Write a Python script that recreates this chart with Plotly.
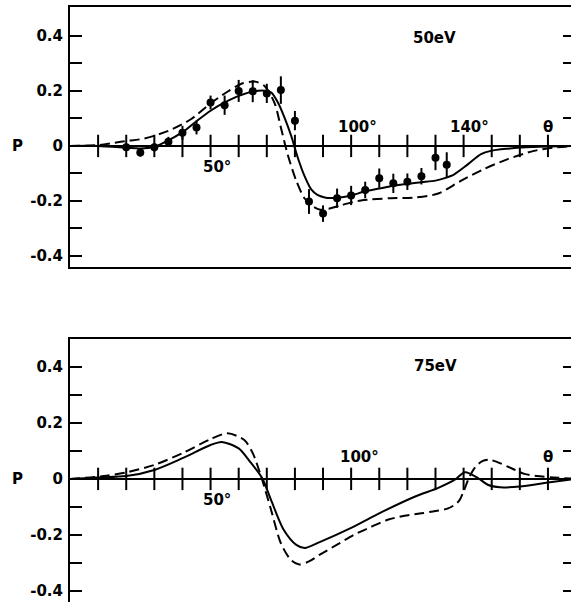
import plotly.graph_objects as go

# ---------------- data ----------------
theta_ticks = [10, 20, 30, 40, 50, 60, 70, 80, 90, 100, 110, 120, 130, 140, 150, 160, 170]
ytick_vals = [-0.4, -0.3, -0.2, -0.1, 0, 0.1, 0.2, 0.3, 0.4]
ytick_text = ["-0.4", "", "-0.2", "", "0", "", "0.2", "", "0.4"]

# 50 eV measurements
theta_obs_50 = [20, 25, 30, 35, 40, 45, 50, 55, 60, 65, 70, 75, 80, 85, 90, 95, 100, 105, 110, 115, 120, 125, 130, 134]
P_obs_50 = [-0.005, -0.024, -0.005, 0.015, 0.048, 0.067, 0.158, 0.148, 0.200, 0.199, 0.191, 0.203, 0.092, -0.202,
            -0.246, -0.190, -0.180, -0.160, -0.117, -0.136, -0.130, -0.110, -0.043, -0.068]
err_50 = [0.012, 0.015, 0.015, 0.018, 0.025, 0.025, 0.025, 0.035, 0.04, 0.04, 0.035, 0.05, 0.035, 0.045,
          0.03, 0.035, 0.035, 0.03, 0.035, 0.035, 0.03, 0.03, 0.045, 0.045]

# 50 eV solid curve
theta_s50 = [0, 10, 20, 25, 30, 35, 40, 45, 50, 55, 60, 65.6, 70, 71.6, 74, 76.3, 78.7, 81, 83.4, 85.8, 88, 91,
             96, 100, 105, 110, 115, 120, 125, 130, 133, 136.7, 141.5, 146.2, 149.7, 155.7, 160.4, 170, 180]
P_s50 = [0, 0, -0.006, -0.009, -0.003, 0.02, 0.05, 0.09, 0.128, 0.158, 0.182, 0.199, 0.2, 0.194, 0.157, 0.103,
         0.036, -0.042, -0.109, -0.158, -0.178, -0.188, -0.187, -0.18, -0.165, -0.155, -0.145, -0.138, -0.132,
         -0.126, -0.118, -0.103, -0.067, -0.03, -0.018, -0.01, -0.006, -0.002, 0]

# 50 eV dashed curve
theta_d50 = [0, 10, 16, 20, 26.5, 35, 43, 50, 56, 61, 65.6, 69.2, 72.8, 75, 77.4, 80.5, 83.4, 86.4, 89, 92,
             96.5, 103.5, 114, 122, 131, 139, 147, 155.7, 165, 172, 180]
P_d50 = [0, 0.003, 0.012, 0.018, 0.027, 0.055, 0.097, 0.155, 0.197, 0.226, 0.234, 0.218, 0.155, 0.067, -0.03,
         -0.127, -0.19, -0.22, -0.232, -0.228, -0.215, -0.198, -0.19, -0.188, -0.173, -0.127, -0.085, -0.048,
         -0.018, -0.006, 0]

# 75 eV solid curve
theta_s75 = [0, 10, 20, 30, 40, 50, 54, 60, 64, 68.5, 71.5, 76, 80.5, 83.5, 89, 100, 111, 123, 131, 137, 140.5,
             145, 148.6, 153, 160, 170, 180]
P_s75 = [0, 0.005, 0.01, 0.032, 0.074, 0.121, 0.132, 0.109, 0.062, 0.0, -0.075, -0.182, -0.236, -0.247, -0.225,
         -0.175, -0.118, -0.062, -0.032, -0.002, 0.024, 0.004, -0.021, -0.03, -0.027, -0.013, 0]

# 75 eV dashed curve
theta_d75 = [0, 12, 20, 30, 40, 50, 56, 62, 65, 68, 71.5, 75, 78.6, 81.5, 85, 89, 95, 101, 107, 113, 119, 125,
             130, 134, 136.5, 138.5, 140, 142, 144, 146.5, 149, 152, 155.7, 161.6, 166, 172, 180]
P_d75 = [0, 0.01, 0.023, 0.05, 0.092, 0.142, 0.163, 0.139, 0.092, 0.008, -0.11, -0.23, -0.29, -0.306, -0.295,
         -0.27, -0.235, -0.2, -0.172, -0.146, -0.132, -0.123, -0.115, -0.107, -0.095, -0.077, -0.045, 0.006,
         0.04, 0.063, 0.069, 0.06, 0.044, 0.018, 0.01, 0.005, 0]

# ---------------- figure ----------------
W, H = 571, 602
FONT = "DejaVu Sans, Verdana, sans-serif"
BLACK = "black"

fig = go.Figure()

for xa, ya, ths, Ps, thd, Pd in [("x", "y", theta_s50, P_s50, theta_d50, P_d50),
                                 ("x2", "y2", theta_s75, P_s75, theta_d75, P_d75)]:
    fig.add_trace(go.Scatter(x=theta_ticks, y=[0] * len(theta_ticks), mode="markers", xaxis=xa, yaxis=ya,
                             marker=dict(symbol="line-ns", size=16, line=dict(width=2, color=BLACK)),
                             hoverinfo="skip", showlegend=False, cliponaxis=False))
    fig.add_trace(go.Scatter(x=thd, y=Pd, mode="lines", xaxis=xa, yaxis=ya,
                             line=dict(color=BLACK, width=2, dash="10px,5px", shape="spline", smoothing=0.8),
                             showlegend=False))
    fig.add_trace(go.Scatter(x=ths, y=Ps, mode="lines", xaxis=xa, yaxis=ya,
                             line=dict(color=BLACK, width=2, shape="spline", smoothing=0.8),
                             showlegend=False))

fig.add_trace(go.Scatter(x=theta_obs_50, y=P_obs_50, mode="markers", xaxis="x", yaxis="y",
                         marker=dict(color=BLACK, size=8),
                         error_y=dict(type="data", array=err_50, thickness=2, width=0, color=BLACK),
                         showlegend=False))

# dummy traces for right-hand tick axes
fig.add_trace(go.Scatter(x=[None], y=[None], xaxis="x", yaxis="y3", showlegend=False))
fig.add_trace(go.Scatter(x=[None], y=[None], xaxis="x2", yaxis="y4", showlegend=False))

xdom = [70 / W, 1.0]
top_dom = [1 - 267 / H, 1 - 7 / H]
bot_dom = [0.0, 1 - 339 / H]
xr = [0, 178.2]
yr_top = [-0.44, 0.505]
yr_bot = [-0.44, 0.5]

txt = dict(family=FONT, size=15, color=BLACK, weight="bold")

common_x = dict(domain=xdom, range=xr, showline=True, linewidth=2, linecolor=BLACK, showticklabels=False,
                ticks="", showgrid=False, zeroline=False, fixedrange=True)
common_y = dict(showline=True, linewidth=2, linecolor=BLACK, ticks="inside", ticklen=12, tickwidth=2,
                tickcolor=BLACK, tickvals=ytick_vals, ticktext=ytick_text, showgrid=False,
                zeroline=True, zerolinewidth=2, zerolinecolor=BLACK,
                tickfont=txt, ticklabelstandoff=2)
right_y = dict(side="right", showline=False, ticks="inside", ticklen=8, tickwidth=2, tickcolor=BLACK,
               tickvals=ytick_vals, showticklabels=False, showgrid=False, zeroline=False)

fig.update_layout(
    width=W, height=H, margin=dict(l=0, r=0, t=0, b=0),
    paper_bgcolor="white", plot_bgcolor="white", showlegend=False,
    xaxis=dict(**common_x, anchor="y", mirror=True),
    xaxis2=dict(**common_x, anchor="y2", side="top"),
    yaxis=dict(**common_y, domain=top_dom, range=yr_top, anchor="x"),
    yaxis2=dict(**common_y, domain=bot_dom, range=yr_bot, anchor="x2"),
    yaxis3=dict(**right_y, overlaying="y", anchor="x", range=yr_top),
    yaxis4=dict(**right_y, overlaying="y2", anchor="x2", range=yr_bot),
)

ann = [
    dict(text="P", x=17 / W, xref="paper", y=0, yref="y"),
    dict(text="P", x=17 / W, xref="paper", y=0, yref="y2"),
    dict(text="50°", x=52.2, xref="x", y=-0.076, yref="y"),
    dict(text="100°", x=102.1, xref="x", y=0.07, yref="y"),
    dict(text="140°", x=142, xref="x", y=0.07, yref="y"),
    dict(text="θ", x=170, xref="x", y=0.07, yref="y"),
    dict(text="50eV", x=129.8, xref="x", y=0.393, yref="y"),
    dict(text="50°", x=52.2, xref="x2", y=-0.075, yref="y2"),
    dict(text="100°", x=103, xref="x2", y=0.078, yref="y2"),
    dict(text="θ", x=170, xref="x2", y=0.078, yref="y2"),
    dict(text="75eV", x=130, xref="x2", y=0.405, yref="y2"),
]
for a in ann:
    fig.add_annotation(**a, showarrow=False, font=txt, xanchor="center", yanchor="middle")

fig.write_html("out.html")
